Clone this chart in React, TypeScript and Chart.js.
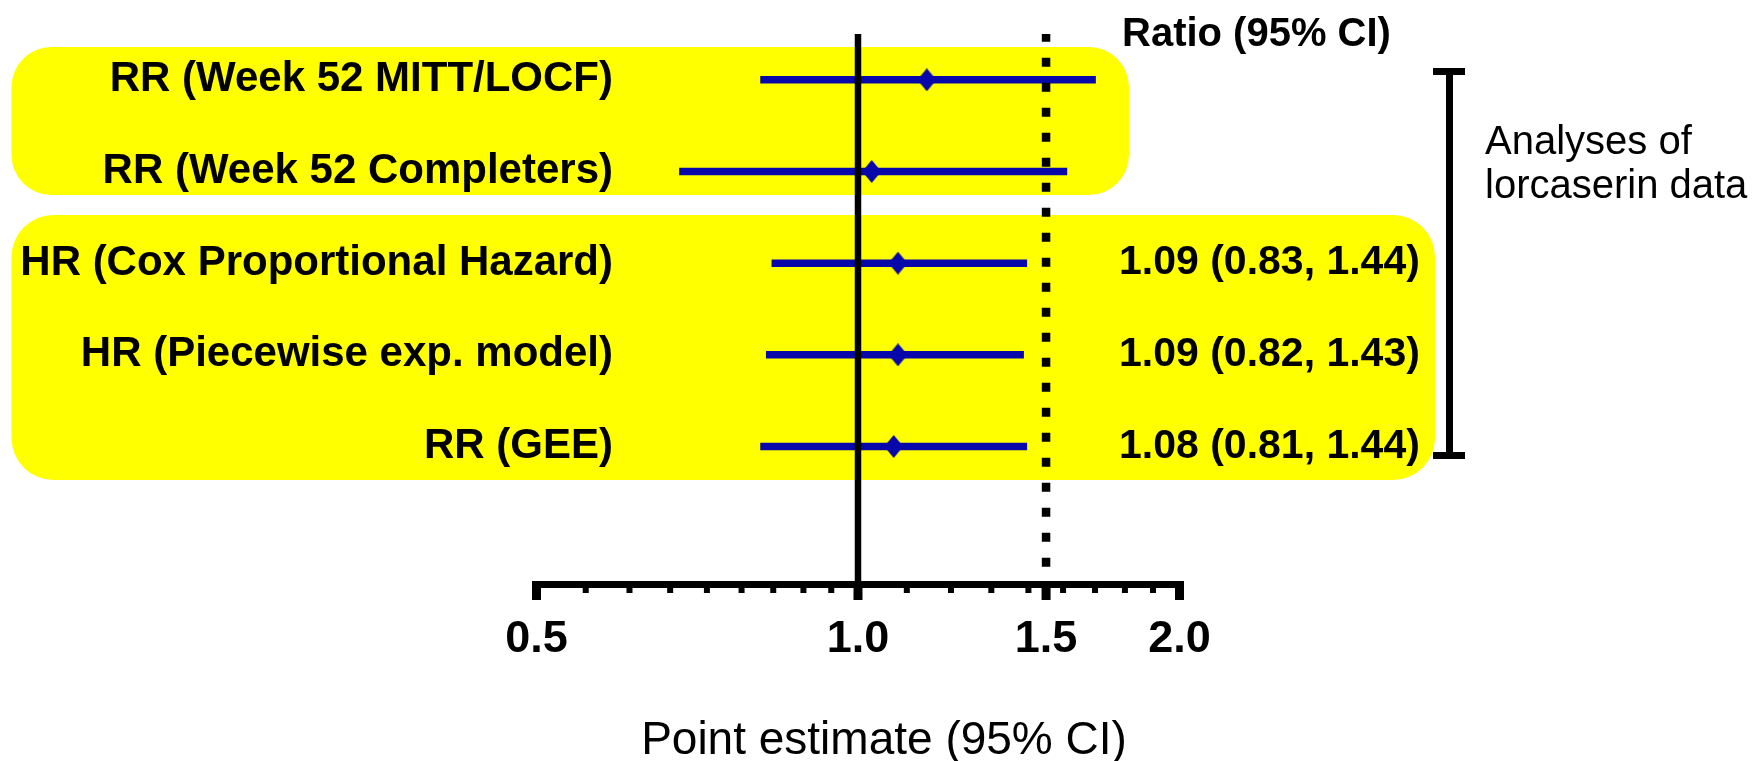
import React, { useEffect, useRef } from "react";
import { Chart, registerables } from "chart.js";

Chart.register(...registerables);

// ---- Data ----
const rowLabels = [
  "RR (Week 52 MITT/LOCF)",
  "RR (Week 52 Completers)",
  "HR (Cox Proportional Hazard)",
  "HR (Piecewise exp. model)",
  "RR (GEE)",
];
const rowPositions = [1, 2, 3, 4, 5];
const pointEstimates = [1.16, 1.03, 1.09, 1.09, 1.08];
const ciLower = [0.81, 0.68, 0.83, 0.82, 0.81];
const ciUpper = [1.67, 1.57, 1.44, 1.43, 1.44];
const ratioLabels = ["", "", "1.09 (0.83, 1.44)", "1.09 (0.82, 1.43)", "1.08 (0.81, 1.44)"];
const tickValues = [0.5, 1.0, 1.5, 2.0];
const minorTickValues = [
  0.556, 0.611, 0.667, 0.722, 0.778, 0.833, 0.889, 0.944,
  1.111, 1.222, 1.333, 1.444, 1.556, 1.667, 1.778, 1.889,
];
const solidRefValue = 1.0;
const dottedRefValue = 1.5;
const yRange = [0.5, 6.5];
const xTitle = "Point estimate (95% CI)";
const headerText = "Ratio (95% CI)";
const bracketText = ["Analyses of", "lorcaserin data"];

const FONT = '"Liberation Sans", Arial, Helvetica, sans-serif';
const BLUE = "#0808aa";
const YELLOW = "#ffff00";

function makeDiamond(w: number, h: number, color: string) {
  const c = document.createElement("canvas");
  c.width = w;
  c.height = h;
  const g = c.getContext("2d")!;
  g.fillStyle = color;
  g.beginPath();
  g.moveTo(w / 2, 0);
  g.lineTo(w, h / 2);
  g.lineTo(w / 2, h);
  g.lineTo(0, h / 2);
  g.closePath();
  g.fill();
  return c;
}

const decorPlugin = {
  id: "forestDecor",
  beforeDatasetsDraw(chart: any) {
    const ctx = chart.ctx;
    ctx.save();
    ctx.fillStyle = YELLOW;
    ctx.beginPath();
    ctx.roundRect(11.5, 47, 1117.5, 148, 40);
    ctx.fill();
    ctx.beginPath();
    ctx.roundRect(11.5, 215, 1423.5, 265, 42);
    ctx.fill();
    ctx.restore();
  },
  afterDatasetsDraw(chart: any) {
    const ctx = chart.ctx;
    const xs = chart.scales.x;
    const ys = chart.scales.y;
    const bottom = chart.chartArea.bottom;
    ctx.save();
    ctx.fillStyle = "#000";
    // axis line
    const x0 = xs.getPixelForValue(tickValues[0]);
    const x1 = xs.getPixelForValue(tickValues[tickValues.length - 1]);
    ctx.fillRect(x0 - 4.5, bottom - 3, x1 - x0 + 9, 7);
    // major ticks
    tickValues.forEach((v) => {
      const px = xs.getPixelForValue(v);
      ctx.fillRect(px - 4.5, bottom - 3, 9, 19);
    });
    // minor ticks
    minorTickValues.forEach((v) => {
      const px = xs.getPixelForValue(v);
      ctx.fillRect(px - 3, bottom - 3, 6, 12);
    });

    // row labels
    ctx.textBaseline = "middle";
    ctx.textAlign = "right";
    ctx.font = `bold 42px ${FONT}`;
    rowLabels.forEach((t, i) => {
      ctx.fillText(t, 613, ys.getPixelForValue(rowPositions[i]));
    });
    // ratio labels
    ctx.textAlign = "left";
    ctx.font = `bold 41px ${FONT}`;
    ratioLabels.forEach((t, i) => {
      if (t) ctx.fillText(t, 1119, ys.getPixelForValue(rowPositions[i]));
    });
    // header
    ctx.font = `bold 40px ${FONT}`;
    ctx.fillText(headerText, 1122, 35);

    // bracket
    ctx.fillRect(1446, 68, 7, 391);
    ctx.fillRect(1433, 68, 32, 7);
    ctx.fillRect(1433, 452, 32, 7);

    // bracket text
    ctx.font = `40px ${FONT}`;
    ctx.fillText(bracketText[0], 1485, 143);
    ctx.fillText(bracketText[1], 1485, 187);

    // axis title
    ctx.textAlign = "center";
    ctx.font = `46px ${FONT}`;
    ctx.fillText(xTitle, 884, 741);
    ctx.restore();
  },
};

export default function App() {
  const ref = useRef<HTMLCanvasElement | null>(null);

  useEffect(() => {
    if (!ref.current) return;
    const diamond = makeDiamond(19, 23, BLUE);

    const ciDatasets = rowPositions.map((r, i) => ({
      label: rowLabels[i],
      data: [
        { x: ciLower[i], y: r },
        { x: ciUpper[i], y: r },
      ],
      showLine: true,
      borderColor: BLUE,
      borderWidth: 7.5,
      pointRadius: 0,
      order: 3,
    }));

    const chart = new Chart(ref.current, {
      type: "scatter",
      data: {
        datasets: [
          {
            label: "Point estimates",
            data: rowPositions.map((r, i) => ({ x: pointEstimates[i], y: r })),
            pointStyle: diamond as any,
            pointRadius: 5,
            showLine: false,
            order: 0,
          },
          {
            label: "ref 1.0",
            data: [
              { x: solidRefValue, y: yRange[0] },
              { x: solidRefValue, y: yRange[1] },
            ],
            showLine: true,
            borderColor: "#000",
            borderWidth: 6.5,
            pointRadius: 0,
            order: 1,
          },
          {
            label: "ref 1.5",
            data: [
              { x: dottedRefValue, y: yRange[0] },
              { x: dottedRefValue, y: yRange[1] },
            ],
            showLine: true,
            borderColor: "#000",
            borderWidth: 8.5,
            borderDash: [9, 16],
            borderDashOffset: 1.3,
            pointRadius: 0,
            order: 1,
          },
          ...ciDatasets,
        ] as any,
      },
      options: {
        animation: false,
        responsive: false,
        events: [],
        layout: { padding: { left: 536.5, right: 575.5, top: 34, bottom: 65 } },
        plugins: { legend: { display: false }, tooltip: { enabled: false } },
        scales: {
          x: {
            type: "logarithmic",
            position: "bottom",
            min: 0.5,
            max: 2.0,
            afterBuildTicks: (s: any) => {
              s.ticks = tickValues.map((v) => ({ value: v }));
            },
            ticks: {
              callback: (v: any) => Number(v).toFixed(1),
              autoSkip: false,
              maxRotation: 0,
              minRotation: 0,
              padding: 29,
              color: "#000",
              font: { family: FONT, size: 45, weight: "bold", lineHeight: 1.2 },
            },
            grid: { display: false, drawTicks: false },
            border: { display: false },
          },
          y: {
            type: "linear",
            min: yRange[0],
            max: yRange[1],
            reverse: true,
            display: false,
          },
        },
      } as any,
      plugins: [decorPlugin],
    });
    return () => chart.destroy();
  }, []);

  return (
    <div style={{ position: "absolute", left: 0, top: 0, width: 1755, height: 761, background: "#fff" }}>
      <canvas ref={ref} width={1755} height={761} style={{ display: "block" }} />
    </div>
  );
}
